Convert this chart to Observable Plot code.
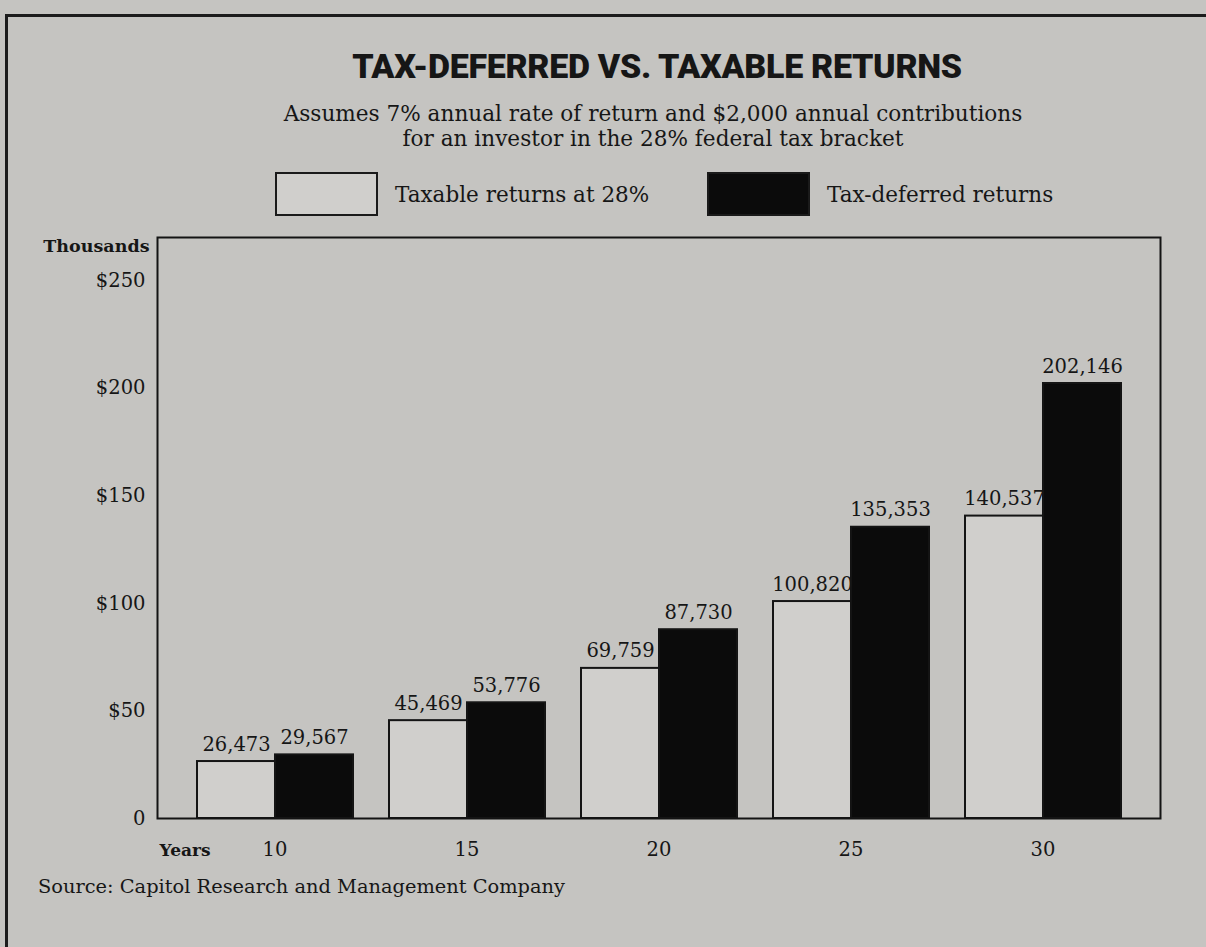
<!DOCTYPE html>
<html>
<head>
<meta charset="utf-8">
<script src="https://cdn.jsdelivr.net/npm/d3@7"></script>
<script src="https://cdn.jsdelivr.net/npm/@observablehq/plot@0.6"></script>
<style>
  html, body { margin: 0; padding: 0; }
  body {
    width: 1206px; height: 947px; overflow: hidden; position: relative;
    background: #c5c4c1; color: #161616;
    font-family: "DejaVu Serif", serif;
  }
  #box {
    position: absolute; left: 5px; top: 14px; width: 1300px; height: 1000px;
    border-top: 3px solid #1c1c1c; border-left: 3px solid #1c1c1c;
  }
  #title {
    position: absolute; top: 46px; left: 0; width: 1314px; text-align: center;
    font-family: Roboto, sans-serif; font-weight: 900; font-size: 34px;
    letter-spacing: -0.3px;
  }
  #subtitle {
    position: absolute; top: 101px; left: 0; width: 1306px; text-align: center;
    font-size: 21.6px; line-height: 25px;
  }
  .legend { position: absolute; top: 172px; display: flex; align-items: center; font-size: 21.5px; }
  .swatch { width: 103px; height: 44px; box-sizing: border-box; margin-right: 17px; }
  #chart { position: absolute; left: 0; top: 200px; }
  #source { position: absolute; left: 38px; top: 875px; font-size: 19.4px; }
</style>
</head>
<body>
<div id="box"></div>
<div id="title">TAX-DEFERRED VS. TAXABLE RETURNS</div>
<div id="subtitle">Assumes 7% annual rate of return and $2,000 annual contributions<br>for an investor in the 28% federal tax bracket</div>
<div id="legend"></div>
<div id="chart"></div>
<div id="source">Source: Capitol Research and Management Company</div>
<script>
// Accumulated value of $2,000 yearly contributions at 7%, in dollars
const years = ["10", "15", "20", "25", "30"];
const taxable = [26473, 45469, 69759, 100820, 140537];
const deferred = [29567, 53776, 87730, 135353, 202146];
const series = ["Taxable returns at 28%", "Tax-deferred returns"];
const seriesFill = ["#d0cfcc", "#0b0b0b"];
const yTicks = [0, 50, 100, 150, 200, 250];

const rows = years.flatMap((year, i) => [
  {year, series: series[0], value: taxable[i]},
  {year, series: series[1], value: deferred[i]}
]);

// Legend
const legend = document.getElementById("legend");
const legendLeft = [275, 707];
series.forEach((s, i) => {
  const item = document.createElement("div");
  item.className = "legend";
  item.style.left = legendLeft[i] + "px";
  const sw = document.createElement("div");
  sw.className = "swatch";
  sw.style.background = seriesFill[i];
  sw.style.border = "2px solid #1a1a1a";
  item.appendChild(sw);
  const t = document.createElement("span");
  t.textContent = s;
  item.appendChild(t);
  legend.appendChild(item);
});

const fmt = d3.format(",");

const chart = Plot.plot({
  width: 1206,
  height: 668,
  marginLeft: 154,
  marginRight: 44,
  marginTop: 37,
  marginBottom: 50,
  style: {background: "transparent", color: "#161616", fontFamily: "DejaVu Serif", fontSize: "19.5px", overflow: "visible"},
  // facet bands overlap a little so the outer gutters are wider than the gaps between year groups
  fx: {domain: years, paddingInner: -0.223, paddingOuter: 0, tickSize: 0, tickPadding: 24, label: null},
  x: {domain: series, paddingInner: 0, paddingOuter: 0.5, axis: null},
  y: {
    domain: [0, 270], ticks: yTicks, tickSize: 0, tickPadding: 12,
    tickFormat: d => d === 0 ? "0" : "$" + d, label: null
  },
  color: {domain: series, range: seriesFill},
  marks: [
    Plot.barY(rows, {
      fx: "year", x: "series", y: d => d.value / 1000,
      fill: "series", stroke: "#141414", strokeWidth: 2
    }),
    Plot.text(rows, {
      fx: "year", x: "series", y: d => d.value / 1000,
      text: d => fmt(d.value), lineAnchor: "bottom", dy: -11, fontSize: 19.5
    }),
    Plot.text(["Thousands"], {
      facet: "super", frameAnchor: "top-left", textAnchor: "end",
      lineAnchor: "top", dx: -8, dy: 2, fontSize: 17.5, fontWeight: "bold"
    }),
    Plot.text(["Years"], {
      facet: "super", frameAnchor: "bottom-left", textAnchor: "start",
      lineAnchor: "top", dx: 2, dy: 25, fontSize: 17, fontWeight: "bold"
    }),
    Plot.frame({facet: "super", stroke: "#141414", strokeWidth: 2})
  ]
});
document.getElementById("chart").appendChild(chart);
</script>
</body>
</html>
